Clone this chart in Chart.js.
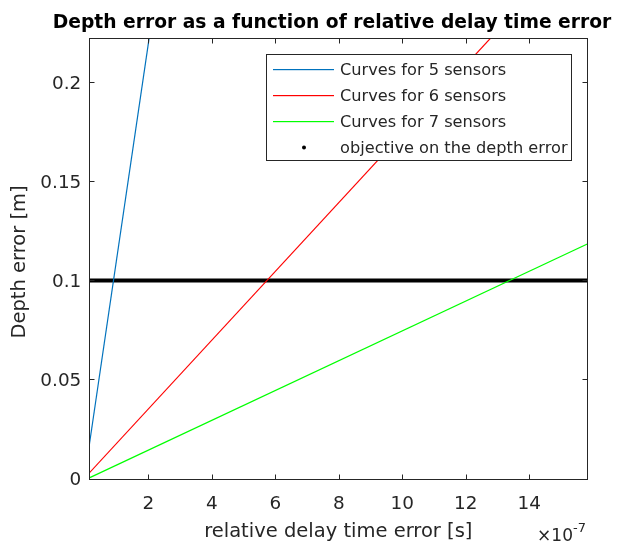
<!DOCTYPE html>
<html><head><meta charset="utf-8">
<script src="https://cdn.jsdelivr.net/npm/chart.js@4/dist/chart.umd.min.js"></script>
<style>html,body{margin:0;padding:0;background:#fff;overflow:hidden}</style>
</head><body>
<canvas id="c" width="621" height="545"></canvas>
<script>
// ---- data (x in units of 1e-7 s, y in m) ----
const titleText = 'Depth error as a function of relative delay time error';
const xTitle = 'relative delay time error [s]';
const yTitle = 'Depth error [m]';
const xTickValues = [2, 4, 6, 8, 10, 12, 14];
const xTickLabels = ['2', '4', '6', '8', '10', '12', '14'];
const yTickValues = [0, 0.05, 0.1, 0.15, 0.2];
const yTickLabels = ['0', '0.05', '0.1', '0.15', '0.2'];
const delayError = [0.142, 15.827];
const depth5 = [0.0169, 1.727];
const depth6 = [0.0028, 0.2753];
const depth7 = [0.0003, 0.1184];
const objective = [0.1, 0.1];
const seriesLabels = ['Curves for 5 sensors', 'Curves for 6 sensors', 'Curves for 7 sensors', 'objective on the depth error'];
const seriesColors = ['rgb(0,114,189)', 'rgb(255,0,0)', 'rgb(0,255,0)', 'rgb(0,0,0)'];

const FONT = 'DejaVu Sans';
const AX = '#262626';

function pts(ys) { return ys.map((y, i) => ({ x: delayError[i], y })); }

const series = [depth5, depth6, depth7, objective];
const datasets = series.map((s, i) => ({
  label: seriesLabels[i], data: pts(s), borderColor: seriesColors[i],
  borderWidth: i === 3 ? 4.2 : 1.2, pointRadius: 0, tension: 0, clip: 0
}));

const decor = {
  id: 'decor',
  afterDraw(chart) {
    const ctx = chart.ctx;
    const a = chart.chartArea;
    const xs = chart.scales.x, ys = chart.scales.y;
    const L = Math.round(a.left) + 0.5, R = Math.round(a.right) + 0.5;
    const T = Math.round(a.top) + 0.5, B = Math.round(a.bottom) + 0.5;
    ctx.save();
    ctx.strokeStyle = AX; ctx.lineWidth = 1;
    ctx.strokeRect(L, T, R - L, B - T);
    ctx.beginPath();
    xTickValues.forEach(v => {
      const px = Math.round(xs.getPixelForValue(v)) + 0.5;
      ctx.moveTo(px, B); ctx.lineTo(px, B - 5);
      ctx.moveTo(px, T); ctx.lineTo(px, T + 5);
    });
    yTickValues.forEach(v => {
      const py = Math.round(ys.getPixelForValue(v)) + 0.5;
      ctx.moveTo(L, py); ctx.lineTo(L + 5, py);
      ctx.moveTo(R, py); ctx.lineTo(R - 5, py);
    });
    ctx.stroke();
    ctx.restore();

    // legend
    ctx.save();
    const lx = 266.5, ly = 54.5, lw = 305, lh = 106;
    ctx.fillStyle = '#ffffff';
    ctx.fillRect(lx, ly, lw, lh);
    ctx.strokeStyle = AX; ctx.lineWidth = 1;
    ctx.strokeRect(lx, ly, lw, lh);
    for (let i = 0; i < seriesLabels.length; i++) {
      const cy = 69 + 26 * i;
      ctx.fillStyle = seriesColors[i];
      if (i === 3) {
        ctx.beginPath(); ctx.arc(304, cy + 0.5, 2, 0, Math.PI * 2); ctx.fill();
      } else {
        ctx.fillRect(273, cy, 61, 1.2);
      }
      ctx.fillStyle = AX;
      ctx.font = '16.2px "' + FONT + '"';
      ctx.textAlign = 'left'; ctx.textBaseline = 'middle';
      ctx.fillText(seriesLabels[i], 340, cy + 1.5);
    }
    ctx.restore();

    ctx.save();
    // title
    ctx.fillStyle = '#000';
    ctx.font = 'bold 18.7px "' + FONT + '"';
    ctx.textAlign = 'center'; ctx.textBaseline = 'alphabetic';
    ctx.fillText(titleText, 332, 27.6);

    // y-axis title
    ctx.fillStyle = AX;
    ctx.font = '19.5px "' + FONT + '"';
    ctx.save();
    ctx.translate(20, 262);
    ctx.rotate(-Math.PI / 2);
    ctx.textAlign = 'center'; ctx.textBaseline = 'middle';
    ctx.fillText(yTitle, 0, 0);
    ctx.restore();

    // exponent
    ctx.fillStyle = AX;
    ctx.font = '17px "' + FONT + '"';
    ctx.textAlign = 'right'; ctx.textBaseline = 'alphabetic';
    ctx.fillText('\u00d710', 573, 541);
    ctx.font = '13px "' + FONT + '"';
    ctx.textAlign = 'left';
    ctx.fillText('-7', 573, 532);
    ctx.restore();
  }
};

new Chart(document.getElementById('c'), {
  type: 'line',
  data: { datasets },
  options: {
    responsive: false, animation: false, devicePixelRatio: 1,
    layout: { padding: { top: 38.3, right: 33.7, left: 0, bottom: 0 } },
    plugins: { legend: { display: false }, title: { display: false }, tooltip: { enabled: false } },
    scales: {
      x: {
        type: 'linear', min: delayError[0], max: delayError[1],
        grid: { display: false, drawTicks: false }, border: { display: false },
        afterBuildTicks: s => { s.ticks = xTickValues.map(v => ({ value: v })); },
        ticks: {
          callback: v => xTickLabels[xTickValues.indexOf(v)],
          font: { family: FONT, size: 18.4 }, color: AX, padding: 15,
          maxRotation: 0, autoSkip: false
        },
        title: { display: true, text: xTitle, font: { family: FONT, size: 19.5 }, color: AX, padding: { top: 0, bottom: 1 } },
        afterFit: s => { s.height = 66.5; }
      },
      y: {
        type: 'linear', min: 0, max: 0.2223,
        grid: { display: false, drawTicks: false }, border: { display: false },
        afterBuildTicks: s => { s.ticks = yTickValues.map(v => ({ value: v })); },
        ticks: {
          callback: v => yTickLabels[yTickValues.indexOf(v)],
          font: { family: FONT, size: 18.4 }, color: AX, padding: 8, autoSkip: false, labelOffset: 2
        },
        title: { display: false },
        afterFit: s => { s.width = 89.3; }
      }
    }
  },
  plugins: [decor]
});
</script>
</body></html>
